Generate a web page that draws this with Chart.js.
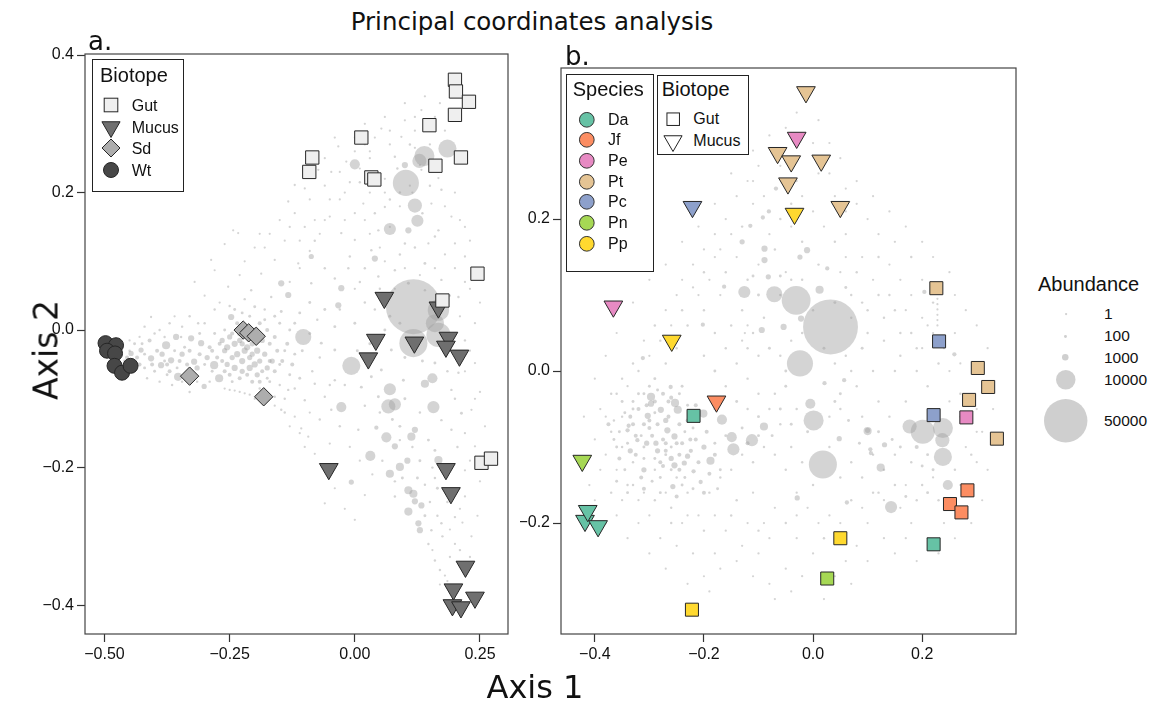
<!DOCTYPE html>
<html>
<head>
<meta charset="utf-8">
<title>Principal coordinates analysis</title>
<script src="https://cdn.jsdelivr.net/npm/chart.js@4.4.1/dist/chart.umd.min.js"></script>
<style>
  body { margin: 0; background: #fff; }
  #page { position: relative; width: 1151px; height: 704px; overflow: hidden; color: #111; }
  #page canvas { position: absolute; }
  .txt { position: absolute; white-space: nowrap; line-height: 1; }
  .box { position: absolute; border: 1.5px solid #222; background: #fff; box-sizing: border-box; }
  svg.mk { position: absolute; overflow: visible; }
</style>
</head>
<body>
<div id="page">
  <canvas id="chartA" width="520" height="640" style="left:0;top:40px"></canvas>
  <canvas id="chartB" width="510" height="640" style="left:520px;top:40px"></canvas>
</div>
<script>
// === Panel a: samples by biotope (Axis 1, Axis 2)
const gutA = [[0.200,0.364],[0.202,0.347],[0.228,0.332],[0.200,0.313],[0.149,0.298],[0.013,0.280],
  [-0.085,0.251],[-0.091,0.230],[0.033,0.222],[0.039,0.219],[0.161,0.239],[0.212,0.251],
  [0.245,0.082],[0.175,0.043],[0.253,-0.193],[0.272,-0.187]];
const mucusA = [[0.059,0.047],[0.167,0.033],[0.042,-0.014],[0.027,-0.041],[0.119,-0.018],[0.187,-0.011],
  [0.182,-0.024],[0.209,-0.037],[-0.052,-0.202],[0.182,-0.202],[0.192,-0.237],[0.221,-0.344],
  [0.197,-0.377],[0.195,-0.400],[0.212,-0.403],[0.240,-0.389]];
const sdA = [[-0.223,0.000],[-0.212,-0.004],[-0.197,-0.009],[-0.330,-0.067],[-0.182,-0.097]];
const wtA = [[-0.498,-0.019],[-0.477,-0.022],[-0.495,-0.030],[-0.479,-0.034],[-0.480,-0.052],[-0.465,-0.062],[-0.448,-0.052]];

// === Panel b: samples by species and biotope
const speciesNames = ['Da','Jf','Pe','Pt','Pc','Pn','Pp'];
const speciesColors = ['#66c2a5','#fc8d62','#e78ac3','#e5c494','#8da0cb','#a6d854','#ffd92f'];
const gutB = [[-0.219,-0.059,'Da'],[0.050,-0.220,'Pp'],[0.026,-0.273,'Pn'],[-0.222,-0.314,'Pp'],
  [0.226,0.109,'Pt'],[0.231,0.039,'Pc'],[0.302,0.004,'Pt'],[0.321,-0.021,'Pt'],[0.286,-0.038,'Pt'],
  [0.221,-0.058,'Pc'],[0.281,-0.061,'Pe'],[0.337,-0.089,'Pt'],[0.283,-0.157,'Jf'],[0.251,-0.175,'Jf'],
  [0.272,-0.186,'Jf'],[0.221,-0.228,'Da']];
const mucusB = [[-0.013,0.367,'Pt'],[-0.030,0.307,'Pe'],[-0.065,0.287,'Pt'],[-0.040,0.276,'Pt'],
  [0.015,0.277,'Pt'],[-0.046,0.247,'Pt'],[0.050,0.216,'Pt'],[-0.034,0.207,'Pp'],[-0.221,0.216,'Pc'],
  [-0.366,0.085,'Pe'],[-0.259,0.040,'Pp'],[-0.177,-0.040,'Jf'],[-0.423,-0.118,'Pn'],
  [-0.418,-0.197,'Da'],[-0.394,-0.204,'Da'],[-0.413,-0.184,'Da']];

// === OTU clouds [axis1, axis2, abundance]
const cloudA = [
  [0.117,0.034,80000],[0.102,0.214,18000],[0.139,0.253,10600],[0.185,0.264,8600],[0.129,0.246,5200],
  [0.120,0.181,5200],[0.125,0.159,3800],[0.070,0.147,3800],[0.000,0.241,2600],[0.167,0.029,12000],
  [0.160,0.010,8600],[0.167,-0.007,15300],[0.117,-0.019,20800],[-0.007,-0.052,8600],[0.070,-0.086,3800],
  [0.067,-0.111,5200],[0.080,-0.108,3800],[-0.027,-0.112,2600],[0.157,-0.112,3800],[0.063,-0.156,2600],
  [0.031,-0.183,2600],[0.155,-0.070,2600],[-0.103,-0.010,6800],
  [-0.377,-0.022,1640],[-0.353,-0.068,1640],[-0.271,-0.070,1640],[-0.281,-0.051,1640],[-0.357,-0.010,900],
  [-0.327,-0.012,900],[-0.307,-0.019,900],[-0.407,-0.041,900],[-0.387,-0.051,900],[-0.367,-0.044,900],
  [-0.321,-0.046,900],[-0.427,-0.029,600],[-0.447,-0.034,600],[-0.301,-0.082,600],[0.040,0.104,900],
  [0.107,0.145,900],[0.100,0.240,900],[-0.033,0.036,900],[-0.027,0.061,900],[-0.147,0.068,900],
  [-0.133,0.051,900],[-0.247,0.019,900],[-0.087,0.107,600],[0.140,-0.078,1640],[0.113,-0.155,1640],
  [0.090,-0.199,1640],[0.070,-0.209,1640],[0.107,-0.233,1640],[0.117,-0.238,1640],[0.107,-0.264,1640],
  [0.167,-0.189,1640],[0.080,-0.169,900],[0.105,-0.190,900],[0.120,-0.249,900],[0.133,-0.255,900],
  [0.127,-0.281,900],[0.130,-0.291,900],[0.120,-0.145,900],[0.043,-0.142,360],[-0.007,-0.221,600],
  [-0.250,-0.010,600],[-0.240,-0.020,900],[-0.230,-0.015,600],[-0.215,-0.025,900],[-0.205,-0.020,600],
  [-0.195,-0.030,900],[-0.185,-0.015,600],[-0.245,-0.040,600],[-0.235,-0.035,900],[-0.225,-0.045,900],
  [-0.210,-0.040,600],[-0.200,-0.050,900],[-0.190,-0.045,600],[-0.180,-0.035,600],[-0.255,-0.050,600],
  [-0.240,-0.055,900],[-0.225,-0.060,600],[-0.210,-0.055,900],[-0.195,-0.065,600],[-0.175,-0.055,600],
  [-0.230,-0.005,600],[-0.215,0.005,300],[-0.200,0.000,600],[-0.170,-0.020,300],[-0.165,-0.045,600],
  [-0.260,-0.030,600],[-0.265,-0.045,300],[-0.220,-0.030,900],[-0.205,-0.035,600],[-0.185,-0.060,300],
  [-0.250,-0.065,300],[-0.160,-0.060,300],[-0.155,-0.030,300],[-0.235,0.010,300],[-0.190,0.010,300],
  [-0.175,0.000,300],[-0.145,-0.045,300],[-0.135,-0.020,300],[-0.125,-0.050,300],
  [-0.460,-0.045,100],[-0.440,-0.020,100],[-0.430,-0.050,300],[-0.420,-0.035,100],[-0.410,-0.015,300],
  [-0.400,-0.060,100],[-0.395,-0.030,300],[-0.380,-0.045,100],[-0.370,-0.060,300],[-0.360,-0.030,100],
  [-0.350,-0.045,300],[-0.340,-0.025,100],[-0.335,-0.050,300],[-0.320,-0.065,100],[-0.310,-0.035,300],
  [-0.300,-0.050,100],[-0.290,-0.025,300],[-0.285,-0.060,100],[-0.275,-0.040,300],[-0.440,-0.060,30],
  [-0.450,-0.030,30],[-0.415,-0.070,30],[-0.390,-0.075,30],[-0.365,-0.080,30],[-0.345,-0.075,30],
  [-0.330,-0.090,30],[-0.390,0.000,30],[-0.370,0.010,30],[-0.345,0.005,30],[-0.420,0.005,30],
  [-0.300,0.010,30],[-0.280,-0.005,100],
  [-0.243,0.145,1],[-0.133,0.187,10],[-0.120,0.211,10],[-0.100,0.206,1],[-0.073,0.233,10],[-0.047,0.230,1],
  [-0.033,0.267,10],[-0.017,0.245,10],[0.053,0.293,10],[0.133,0.320,1],[0.093,0.281,10],[0.080,0.252,30],
  [0.040,0.170,30],[0.017,0.184,10],[-0.027,0.141,30],[0.000,0.131,10],[0.033,0.116,30],[-0.010,0.107,30],
  [-0.013,0.090,30],[-0.087,0.068,30],[-0.113,0.097,10],[-0.160,0.102,10],[-0.167,0.048,30],[-0.187,0.082,10],
  [-0.207,0.058,30],[-0.253,0.063,10],[-0.280,0.087,1],[-0.313,0.010,30],[-0.347,-0.010,30],[-0.407,0.019,10],
  [-0.147,0.027,100],[-0.120,0.010,100],[-0.200,0.034,100],[-0.233,0.141,1],[-0.287,0.102,1],[-0.260,0.125,1],
  [-0.060,0.160,10],[-0.080,0.130,30],[-0.050,0.190,10],[-0.020,0.200,10],[0.010,0.215,30],[0.030,0.250,10],
  [0.060,0.220,10],[0.070,0.190,30],[0.020,0.160,10],[-0.100,0.150,10],[-0.140,0.130,1],[-0.180,0.120,10],
  [-0.220,0.100,1],[-0.060,0.090,30],[-0.040,0.075,30],[-0.090,0.040,100],[-0.060,0.030,100],[-0.040,0.005,100],
  [0.000,0.010,100],[0.020,0.040,30],[0.050,0.060,30],[0.070,0.020,100],[0.030,-0.020,100],[0.005,-0.030,100],
  [-0.070,-0.040,30],[-0.050,-0.080,30],
  [0.133,0.233,10],[0.167,0.221,10],[0.173,0.204,30],[0.153,0.184,10],[0.193,0.165,10],[0.167,0.145,30],
  [0.200,0.126,10],[0.147,0.126,10],[0.100,0.126,30],[0.060,0.179,10],[0.047,0.145,30],[0.140,0.058,30],
  [0.160,0.136,30],[0.140,0.097,100],[0.173,0.073,30],[0.107,0.068,100],[0.080,0.087,30],[0.047,0.078,30],
  [0.220,0.107,10],[0.207,0.048,30],[0.230,0.060,10],[0.240,0.010,10],[0.220,0.150,1],[0.180,0.290,10],
  [0.160,0.310,10],[0.120,0.290,10],[0.110,0.270,30],[0.070,0.270,10],[0.090,0.200,30],[0.150,0.210,30],
  [0.147,-0.311,30],[0.160,-0.335,30],[0.170,-0.349,30],[0.180,-0.357,10],[0.160,-0.175,100],[0.147,-0.160,100],
  [0.173,-0.131,30],[0.213,-0.121,100],[0.240,-0.169,10],[0.233,-0.116,10],[0.240,-0.048,10],[0.220,-0.015,30],
  [0.160,-0.048,100],[0.007,-0.145,30],[-0.047,-0.116,30],[-0.060,-0.097,30],[-0.080,-0.078,30],[-0.100,-0.102,30],
  [-0.120,-0.126,10],[-0.147,-0.116,30],[-0.160,-0.097,30],[-0.133,-0.087,30],[-0.093,-0.155,10],[-0.107,-0.143,10],
  [0.000,-0.276,10],[-0.060,-0.252,10],[0.047,-0.097,100],[0.013,-0.083,100],[0.033,-0.068,100],[-0.040,-0.073,30],
  [-0.040,-0.029,100],[-0.067,-0.019,100],[0.053,-0.058,100],[0.073,-0.029,100],[0.097,-0.073,100],[0.193,-0.087,30],
  [0.207,-0.062,30],[0.193,-0.145,30],[0.220,-0.204,10],[0.220,-0.242,10],[0.200,-0.272,30],[0.173,-0.281,30],
  [0.200,-0.311,10],[0.233,-0.300,10],[0.153,-0.291,30],[0.140,-0.270,100],[0.080,-0.242,30],[0.080,-0.220,30],
  [0.095,-0.215,100],[0.125,-0.215,100],[0.140,-0.225,30],[0.150,-0.250,30],[0.090,-0.140,100],[0.100,-0.100,100],
  [0.130,-0.120,30],[0.050,-0.120,30],[0.020,-0.110,30],
  [-0.180,-0.090,30],[-0.160,-0.110,10],[-0.140,-0.120,30],[-0.130,-0.140,10],[-0.110,-0.150,10],[-0.100,-0.170,10],
  [-0.080,-0.180,1],[-0.060,-0.200,10],[-0.040,-0.230,1],[-0.020,-0.260,1],[-0.050,-0.165,10],[-0.070,-0.130,30],
  [-0.090,-0.120,10],[-0.150,-0.080,30],[-0.260,-0.085,10],[-0.250,-0.087,10],[-0.240,-0.088,10],[-0.230,-0.090,10],
  [-0.220,-0.092,10],[-0.210,-0.094,10],
  [-0.130,0.070,10],[-0.110,0.090,1],[-0.090,0.115,10],[-0.070,0.140,1],[-0.050,0.165,10],[-0.030,0.190,1],
  [-0.010,0.215,10],[0.010,0.235,1],[0.030,0.260,10],[-0.030,0.030,30],[0.000,0.060,10],[0.020,0.090,30],
  [0.050,0.120,10],[0.070,0.150,10],[0.090,0.180,1],[0.110,0.210,10],[0.130,0.240,1],[0.150,0.270,10],
  [-0.300,0.050,1],[-0.320,0.070,1],[-0.270,0.040,10],[-0.230,0.080,10],[-0.190,0.140,1],[-0.150,0.160,1],
  [-0.120,0.170,10],[-0.090,0.190,1],[-0.060,0.250,1],[-0.040,0.280,10],[0.000,0.280,1],[0.020,0.300,10],
  [0.060,0.310,1],[0.100,0.305,10],[0.120,0.265,10],[0.085,0.235,30],[0.115,0.200,10],[0.135,0.170,30],
  [0.180,0.180,10],[0.200,0.200,1],[0.210,0.160,10],[0.230,0.130,1],[0.240,0.090,10],[0.250,0.040,1],
  [0.230,-0.030,10],[0.250,-0.090,10],[0.260,-0.140,1],[0.250,-0.220,10],[0.245,-0.270,1],[0.230,-0.330,10],
  [0.210,-0.320,30],[0.190,-0.330,10],[0.175,-0.300,30],[0.185,-0.250,30],[0.165,-0.230,100],[0.155,-0.200,30],
  [0.130,-0.190,100],[0.115,-0.170,30],[0.090,-0.160,30],[0.075,-0.130,100],[0.055,-0.190,30],[0.035,-0.210,10],
  [0.020,-0.240,10],[0.010,-0.190,10],[-0.010,-0.170,10],[-0.030,-0.140,30],[-0.020,-0.080,30],[-0.085,-0.060,30],
  [-0.110,-0.070,100],[-0.130,-0.065,100],[-0.140,-0.100,30],[-0.170,-0.075,100],[-0.190,-0.085,30],[-0.200,-0.100,10],
  [-0.170,-0.100,30],[-0.120,-0.085,30],[-0.105,-0.030,100],[-0.090,-0.005,100],[-0.075,0.015,30],[-0.110,0.025,100],
  [-0.130,0.000,100],[-0.150,0.010,100],[-0.160,-0.010,300],[-0.280,0.030,30],[-0.260,0.000,100],[-0.310,-0.005,100],
  [-0.330,0.020,30],[-0.360,0.020,10],[-0.380,-0.010,30],[-0.400,-0.005,30],[-0.430,-0.010,10],[-0.450,-0.015,10],
  [-0.460,-0.060,10],[-0.420,-0.055,100],[-0.375,-0.065,100],[-0.355,-0.055,100],[-0.315,-0.075,30],[-0.290,-0.075,30],
  [-0.270,-0.020,300],[-0.250,0.035,30],[-0.220,0.045,30],[-0.180,0.030,30],[-0.160,0.020,100],[0.060,0.000,100],
  [0.090,0.010,100],[0.100,-0.040,100],[0.135,-0.045,100],[0.185,-0.060,30],[0.200,-0.100,30],[0.220,-0.150,10],
  [0.205,-0.170,30],[0.160,-0.215,30],[0.060,0.050,30],[0.040,0.030,30],[0.010,0.070,30],[0.090,0.110,30],
  [0.120,0.120,30],[0.180,0.110,10],[0.200,0.090,10],[0.220,0.070,10],[0.060,0.200,10],[0.030,0.200,10],[0.000,0.170,10],
  [-0.455,-0.040,300],[-0.435,-0.040,300],[-0.425,-0.020,100],[-0.405,-0.050,300],[-0.385,-0.035,600],[-0.375,-0.050,300],
  [-0.345,-0.035,600],[-0.330,-0.030,300],[-0.315,-0.055,600],[-0.295,-0.040,600],[-0.285,-0.030,300],[-0.265,-0.015,600],
  [-0.255,-0.025,900],[-0.245,-0.005,300],[-0.225,-0.020,600],[-0.215,-0.065,300],[-0.205,-0.075,300],[-0.230,-0.070,300],
  [-0.245,-0.075,100],[-0.260,-0.060,300],[-0.190,-0.075,300],[-0.175,-0.070,100],[-0.170,-0.045,300],[-0.150,-0.050,100],
  [-0.140,-0.030,100],[-0.120,-0.035,100],[-0.195,-0.005,300],[-0.180,0.015,100],[-0.210,0.020,100],[-0.225,0.025,100],
  [-0.240,0.030,100],
  [-0.200,0.120,1],[-0.170,0.140,1],[-0.130,0.150,10],[-0.110,0.130,10],[-0.080,0.160,1],[-0.060,0.210,10],
  [-0.030,0.230,1],[0.000,0.260,10],[0.040,0.280,1],[0.070,0.290,10],[0.100,0.330,1],[0.140,0.340,10],
  [0.170,0.330,1],[0.120,0.310,10],[0.020,0.270,1],[-0.020,0.160,10],[0.030,0.140,1],[0.060,0.100,10],
  [0.080,0.060,1],[0.100,0.090,10],[0.130,0.080,1],[0.160,0.090,10],[0.190,0.050,1],[0.210,0.020,10],
  [0.220,-0.060,1],[0.240,-0.100,10],[0.230,-0.190,1],[0.210,-0.260,10],[0.190,-0.290,1],[0.215,-0.280,10],
  [0.165,-0.270,30],[0.155,-0.320,10],[0.170,-0.370,1],[0.185,-0.365,10]
];
const cloudB = [
  [0.032,0.058,80000],[-0.031,0.093,22000],[-0.071,0.101,6800],[-0.126,0.104,3800],[0.012,0.107,1640],
  [-0.024,0.010,18000],[0.001,-0.065,10600],[0.018,-0.123,20800],[-0.005,-0.043,2600],[-0.112,-0.091,3800],
  [-0.146,-0.103,3800],[-0.149,-0.087,2600],[-0.167,-0.064,2600],[-0.090,-0.073,1640],[-0.188,-0.118,1640],
  [-0.248,-0.051,1640],[-0.253,-0.042,1640],[-0.201,-0.056,1640],[-0.297,-0.034,1640],[0.143,-0.179,3800],
  [0.124,-0.127,1640],[0.177,-0.073,5200],[0.201,-0.080,15300],[0.238,-0.075,10600],[0.237,-0.091,5200],
  [0.238,-0.113,8600],[0.247,-0.150,2600],[0.100,-0.079,1640],
  [-0.089,0.146,900],[-0.089,0.161,900],[-0.011,0.159,900],[-0.024,0.150,600],[-0.130,0.170,600],
  [-0.115,0.191,360],[-0.092,0.202,360],[-0.081,0.210,360],[-0.163,0.111,360],[-0.094,0.054,900],
  [-0.054,0.058,900],[-0.022,0.069,900],[-0.068,0.240,360],[-0.082,0.124,600],[0.026,0.135,360],
  [-0.202,0.061,360],[-0.261,-0.021,360],[-0.312,0.017,360],[-0.297,-0.043,900],[-0.303,-0.059,900],
  [-0.279,-0.051,900],[-0.267,-0.078,900],[-0.254,-0.086,900],[-0.288,-0.095,600],[-0.254,-0.124,900],
  [-0.257,-0.152,600],[-0.310,-0.130,600],[-0.322,-0.091,360],[-0.340,-0.078,360],[-0.338,-0.072,360],
  [-0.236,-0.121,600],[-0.219,-0.132,360],[-0.206,-0.146,360],[-0.230,-0.112,600],[-0.224,-0.105,360],
  [0.057,-0.012,360],[-0.029,-0.167,600],[0.062,-0.173,360],[0.131,-0.097,600],[0.100,-0.078,600],
  [0.048,-0.089,600],[0.105,-0.103,360],[0.021,-0.016,360],[0.259,0.022,360],[0.204,0.104,360],[0.106,-0.108,360],
  [-0.320,-0.050,300],[-0.310,-0.070,300],[-0.330,-0.040,100],[-0.285,-0.070,300],[-0.275,-0.030,300],
  [-0.265,-0.060,300],[-0.245,-0.070,300],[-0.240,-0.095,300],[-0.270,-0.105,300],[-0.290,-0.115,100],
  [-0.300,-0.020,100],[-0.350,-0.040,100],[-0.360,-0.100,100],[-0.325,-0.110,300],[-0.280,-0.140,100],
  [-0.240,-0.150,100],[-0.215,-0.090,300],[-0.195,-0.080,300],[-0.180,-0.095,100],[-0.170,-0.130,100],
  [0.228,0.095,1],[0.228,0.088,1],[0.228,0.081,1],[0.228,0.074,1],[0.228,0.067,1],[0.228,0.060,1],
  [-0.050,0.320,10],[-0.020,0.310,1],[0.000,0.300,10],[-0.070,0.290,10],[-0.100,0.270,10],[-0.120,0.250,1],
  [-0.140,0.230,10],[0.030,0.260,10],[0.060,0.240,1],[0.080,0.220,10],[0.100,0.200,10],[0.120,0.180,10],
  [-0.160,0.200,10],[-0.180,0.180,1],[-0.200,0.160,10],[-0.220,0.140,10],[-0.240,0.120,1],[-0.040,0.220,30],
  [-0.060,0.200,30],[-0.080,0.180,10],[0.020,0.190,10],[0.040,0.170,30],[-0.110,0.220,10],[-0.130,0.190,30],
  [-0.020,0.170,30],[0.010,0.140,30],[0.050,0.130,10],[0.090,0.150,10],[0.140,0.140,10],[0.160,0.120,10],
  [0.180,0.100,10],[0.200,0.070,10],[0.220,0.050,10],[0.240,0.030,10],[0.270,0.010,1],[0.150,0.080,30],
  [0.120,0.100,30],[0.090,0.090,30],[0.070,0.070,30],[0.100,0.050,30],[0.130,0.040,30],[0.160,0.020,30],
  [0.190,0.000,30],[0.210,-0.020,30],[0.250,-0.040,10],[0.270,-0.060,10],[0.300,-0.050,10],[0.280,-0.100,10],
  [0.260,-0.130,30],[0.290,-0.150,10],[0.230,-0.170,30],[0.200,-0.150,30],[0.180,-0.120,30],[0.150,-0.150,30],
  [0.120,-0.160,30],[0.100,-0.200,10],[0.080,-0.230,10],[0.060,-0.250,10],[0.040,-0.270,1],[0.000,-0.240,10],
  [-0.030,-0.220,10],[-0.050,-0.260,10],[-0.080,-0.280,1],[-0.100,-0.240,10],[-0.120,-0.200,10],[-0.140,-0.170,30],
  [-0.160,-0.210,10],[-0.180,-0.240,10],[-0.200,-0.270,1],[-0.220,-0.240,10],[-0.240,-0.200,10],[-0.260,-0.180,30],
  [-0.280,-0.220,10],[-0.300,-0.190,10],[-0.320,-0.170,10],[-0.340,-0.150,30],[-0.360,-0.130,10],[-0.380,-0.110,10],
  [-0.400,-0.090,10],[-0.390,-0.050,10],[-0.370,-0.030,30],[-0.350,-0.010,30],[-0.330,0.010,30],[-0.310,0.040,10],
  [-0.290,0.060,30],[-0.270,0.080,10],[-0.250,0.100,10],[-0.200,0.080,30],[-0.180,0.050,30],[-0.160,0.030,30],
  [-0.140,0.010,30],[-0.120,-0.010,30],[-0.100,-0.030,30],[-0.080,-0.050,30],[-0.060,-0.070,30],[-0.040,-0.100,30],
  [-0.020,-0.120,30],[0.000,-0.150,30],[0.030,-0.190,10],[-0.060,0.020,30],[-0.040,0.040,30],[-0.020,0.050,30],
  [0.060,0.020,30],[0.080,-0.020,30],[0.050,-0.050,30],[0.090,-0.060,30],[0.120,-0.040,30],[0.140,-0.060,30],
  [0.170,-0.040,30],[0.150,0.000,30],[0.110,0.000,30],[-0.090,0.070,30],[-0.110,0.050,30],[-0.130,0.080,30],
  [-0.150,0.060,30],[-0.170,0.100,10],[-0.190,0.120,10],[-0.210,0.100,10],[-0.230,0.060,30],[-0.250,0.030,30],
  [-0.270,0.010,30],[-0.290,-0.010,100],[-0.310,-0.030,100],[-0.330,-0.050,100],[-0.350,-0.060,30],[-0.370,-0.080,30],
  [-0.350,-0.100,30],[-0.330,-0.120,30],[-0.310,-0.100,100],[-0.290,-0.130,30],[-0.270,-0.110,100],[-0.250,-0.140,30],
  [-0.230,-0.160,30],[-0.210,-0.190,10],[-0.190,-0.160,30],[-0.170,-0.140,30],[-0.150,-0.130,30],[-0.130,-0.110,30],
  [-0.110,-0.120,30],[-0.090,-0.100,30],[-0.070,-0.110,30],[-0.050,-0.130,30],[-0.030,-0.160,10],[-0.010,-0.180,10],
  [0.010,-0.200,10],[-0.070,-0.180,10],[-0.090,-0.200,10],[-0.110,-0.160,10],[0.030,-0.100,30],[0.050,-0.140,30],
  [0.070,-0.120,30],[0.090,-0.140,30],[0.110,-0.110,30],[0.130,-0.130,30],[0.160,-0.180,10],[0.180,-0.200,10],
  [0.210,-0.220,10],[0.240,-0.200,10],[0.270,-0.190,10],[0.300,-0.120,10],[0.310,-0.080,10],[0.060,0.180,10],
  [0.000,0.210,10],[-0.030,0.250,10],[0.030,0.300,1],[-0.130,0.040,10],[-0.125,0.050,10],[-0.120,0.060,10],
  [-0.420,-0.060,1],[-0.410,-0.150,10],[-0.400,-0.170,1],[-0.380,-0.200,10],[-0.360,-0.190,1],[-0.340,-0.220,10],
  [-0.320,-0.200,1],[-0.300,-0.240,10],[-0.270,-0.260,1],[-0.250,-0.230,10],[-0.230,-0.280,1],[-0.190,-0.290,10],
  [-0.170,-0.260,1],[-0.140,-0.250,10],[-0.110,-0.270,1],[-0.070,-0.300,10],[-0.040,-0.290,1],[-0.020,-0.270,10],
  [0.020,-0.300,1],[0.070,-0.280,10],[0.100,-0.250,1],[0.130,-0.220,10],[0.150,-0.240,1],[0.170,-0.220,10],
  [0.190,-0.250,1],[0.230,-0.240,10],[0.260,-0.220,1],[0.290,-0.200,10],[0.310,-0.170,1],[0.320,-0.130,10],
  [0.330,-0.050,1],[0.320,0.030,10],[0.300,0.060,1],[0.280,0.080,10],[0.260,0.100,1],[0.250,0.130,10],
  [0.220,0.150,1],[0.200,0.170,10],[0.170,0.190,1],[0.140,0.210,10],[0.110,0.230,1],[0.080,0.250,10],
  [0.050,0.280,1],[0.010,0.330,10],[-0.030,0.340,1],[-0.080,0.310,10],[-0.110,0.290,1],[-0.150,0.260,10],
  [-0.180,0.220,1],[-0.210,0.190,10],[-0.240,0.170,1],[-0.270,0.140,10],[-0.300,0.120,1],[-0.330,0.090,10],
  [-0.360,0.050,1],[-0.380,0.020,10],[-0.400,-0.010,1],[-0.390,-0.130,10],[-0.370,-0.160,30],[-0.350,-0.170,10],
  [-0.330,-0.150,30],[-0.310,-0.160,10],[-0.290,-0.170,30],[-0.270,-0.160,10],[-0.260,-0.200,30],[-0.230,-0.190,10],
  [-0.200,-0.210,30],[-0.180,-0.190,10],[-0.150,-0.190,30],[-0.130,-0.230,10],[-0.100,-0.210,30],[-0.080,-0.220,10],
  [-0.050,-0.200,30],[-0.030,-0.190,10],[0.020,-0.220,30],[0.050,-0.200,10],[0.070,-0.170,30],[0.090,-0.180,10],
  [0.110,-0.160,30],[0.130,-0.170,10],[0.150,-0.110,30],[0.170,-0.150,10],[0.190,-0.170,30],[0.220,-0.140,10],
  [0.250,-0.170,30],[0.270,-0.150,10],[0.290,-0.110,30],[0.300,-0.080,10],[0.270,-0.030,30],[0.250,0.000,10],
  [0.230,0.010,30],[0.200,0.030,10],[0.180,0.050,30],[0.170,0.080,10],[0.140,0.100,30],[0.110,0.120,10],
  [0.080,0.130,30],[0.060,0.150,10],[0.120,0.150,30],[0.150,0.170,10],[0.180,0.150,30],[0.200,0.120,10],
  [0.220,0.090,30],[0.260,0.050,10],[-0.020,0.120,30],[-0.050,0.130,10],[-0.070,0.160,30],[-0.100,0.140,10],
  [-0.120,0.120,30],[-0.140,0.150,10],[-0.160,0.130,30],[-0.180,0.150,10],[-0.200,0.130,30],[-0.220,0.110,10],
  [-0.240,0.080,30],[-0.260,0.060,10],[-0.280,0.040,30],[-0.300,0.020,10],[-0.320,0.000,30],[-0.340,-0.020,10],
  [-0.360,-0.030,30],[-0.380,-0.060,10],[-0.200,0.020,30],[-0.180,0.000,100],[-0.160,-0.020,30],[-0.140,-0.040,100],
  [-0.120,-0.050,30],[-0.100,-0.060,100],[-0.070,-0.030,30],[-0.050,-0.020,100],[-0.030,-0.050,30],[-0.010,-0.080,100],
  [0.030,-0.060,30],[0.050,-0.030,100],[0.070,0.000,30],[0.090,0.030,100],[0.040,0.010,30],[0.020,0.030,100],
  [-0.100,0.020,30],[-0.120,0.030,30],[-0.060,0.100,30],[-0.040,0.120,30],[0.000,0.080,30],[0.070,0.100,30],
  [0.100,0.080,30],[0.130,0.070,30],[0.160,0.050,30],[0.190,0.030,30],[0.210,0.060,10],[-0.110,0.250,10],
  [-0.090,0.230,10],[-0.060,0.270,10],[-0.040,0.190,10],[-0.020,0.230,10],[0.010,0.260,10],[0.040,0.230,10],
  [0.060,0.210,10],[-0.150,0.180,10],[-0.170,0.160,10],
  [-0.345,-0.055,100],[-0.330,-0.070,300],[-0.315,-0.085,100],[-0.300,-0.075,300],[-0.290,-0.055,100],[-0.275,-0.090,300],
  [-0.260,-0.100,100],[-0.245,-0.110,300],[-0.235,-0.080,100],[-0.220,-0.075,100],[-0.310,-0.115,100],[-0.340,-0.095,100],
  [-0.355,-0.080,100],[-0.365,-0.065,30],[-0.305,-0.045,300],[-0.285,-0.025,100],[-0.265,-0.040,300],[-0.245,-0.030,100],
  [-0.230,-0.045,100],[-0.260,-0.130,100],[-0.275,-0.125,300],[-0.295,-0.145,100],
  [-0.180,-0.050,100],[-0.160,-0.085,100],[-0.130,-0.075,100],[-0.120,-0.095,300],[-0.100,-0.085,100],[-0.075,-0.085,100],
  [-0.060,-0.050,100],[-0.040,-0.070,100],[0.040,-0.040,100],[0.065,-0.065,100],[0.085,-0.095,100],[0.120,-0.080,100],
  [0.145,-0.090,100],[0.160,-0.100,100],[0.190,-0.100,300],[0.210,-0.110,100],[0.220,-0.130,100],[0.200,-0.125,100],
  [0.170,-0.165,100],[0.210,-0.160,100],[-0.100,0.100,100],[-0.110,0.125,100],[-0.060,0.125,100],[0.040,0.090,100],
  [0.060,0.110,100],[-0.080,0.030,100],[-0.050,0.000,100],
  [-0.375,-0.070,300],[-0.365,-0.090,100],[-0.355,-0.115,300],[-0.345,-0.130,100],[-0.335,-0.105,600],[-0.325,-0.085,300],
  [-0.315,-0.140,300],[-0.305,-0.095,600],[-0.295,-0.085,300],[-0.285,-0.105,600],[-0.280,-0.120,300],[-0.270,-0.095,300],
  [-0.260,-0.115,600],[-0.250,-0.095,300],[-0.245,-0.130,300],[-0.235,-0.140,100],[-0.225,-0.090,300],[-0.210,-0.120,300],
  [-0.200,-0.100,600],[-0.190,-0.135,300],[-0.180,-0.110,300],[-0.175,-0.155,100],[-0.200,-0.160,300],[-0.220,-0.155,100],
  [-0.250,-0.165,300],[-0.280,-0.160,100],[-0.310,-0.155,300],[-0.340,-0.160,100],[-0.360,-0.145,100],[-0.300,-0.065,300],
  [-0.270,-0.065,600],[-0.230,-0.065,300],[-0.215,-0.045,300],[-0.335,-0.060,300],[-0.290,-0.040,300],[-0.320,-0.030,100],
  [-0.260,-0.035,300],[-0.240,-0.020,100]
];

// === Abundance legend levels
const abundanceLevels = [1, 100, 1000, 10000, 50000];

const CLOUD_GREY = 'rgba(160,160,160,0.45)';
function dotRadius(a) { return Math.sqrt(0.0094 * a + 1.2); }
function speciesColor(name) { return speciesColors[speciesNames.indexOf(name)]; }

function cloudDataset(points) {
  return {
    label: 'OTU',
    data: points.map(p => ({ x: p[0], y: p[1], a: p[2] })),
    pointRadius: c => dotRadius(c.raw ? c.raw.a : 1),
    pointBackgroundColor: CLOUD_GREY,
    pointBorderWidth: 0,
    order: 10
  };
}

function sampleDataset(label, pts, style, radius, fill, rotation) {
  return {
    label,
    data: pts.map(p => ({ x: p[0], y: p[1] })),
    pointStyle: style,
    pointRadius: radius,
    pointRotation: rotation || 0,
    pointBackgroundColor: fill,
    pointBorderColor: '#262626',
    pointBorderWidth: 1,
    order: 1
  };
}

function axis(min, max, ticks, digits, size, isX) {
  return {
    type: 'linear', min, max,
    afterBuildTicks: s => { s.ticks = ticks.map(v => ({ value: v })); },
    afterFit: s => { if (isX) s.height = size; else s.width = size; },
    grid: { drawOnChartArea: false, drawTicks: true, tickLength: 8, tickColor: '#333', tickWidth: 1.2 },
    border: { display: false },
    ticks: {
      color: '#111', font: { family: 'Liberation Sans', size: 16 }, padding: 3,
      maxRotation: 0, autoSkip: false, callback: v => v.toFixed(digits).replace('-', '\u2212')
    }
  };
}

const panelBox = {
  id: 'panelBox',
  afterDraw(chart) {
    const { ctx, chartArea: a } = chart;
    ctx.save();
    ctx.strokeStyle = '#444';
    ctx.lineWidth = 1.2;
    ctx.strokeRect(a.left, a.top, a.right - a.left, a.bottom - a.top);
    ctx.restore();
  }
};

function baseOptions(padding, scales) {
  return {
    responsive: false, animation: false, devicePixelRatio: 1,
    layout: { padding, autoPadding: false },
    plugins: { legend: { display: false }, tooltip: { enabled: false } },
    scales
  };
}

// === Chart a
new Chart(document.getElementById('chartA'), {
  type: 'scatter',
  data: {
    datasets: [
      sampleDataset('Gut', gutA, 'rect', 9.4, '#efefef'),
      sampleDataset('Mucus', mucusA, 'triangle', 10.8, '#6f6f6f', 180),
      sampleDataset('Sd', sdA, 'rectRot', 9.2, '#adadad'),
      sampleDataset('Wt', wtA, 'circle', 7.5, '#474747'),
      cloudDataset(cloudA)
    ]
  },
  options: baseOptions({ top: 14, right: 12, left: 0, bottom: 0 }, {
    x: axis(-0.539, 0.306, [-0.5, -0.25, 0, 0.25], 2, 46, true),
    y: axis(-0.442, 0.4015, [-0.4, -0.2, 0, 0.2, 0.4], 1, 85, false)
  }),
  plugins: [panelBox]
});

// === Chart b
new Chart(document.getElementById('chartB'), {
  type: 'scatter',
  data: {
    datasets: [
      sampleDataset('Gut', gutB, 'rect', 9.2, gutB.map(p => speciesColor(p[2]))),
      sampleDataset('Mucus', mucusB, 'triangle', 10.8, mucusB.map(p => speciesColor(p[2])), 180),
      cloudDataset(cloudB)
    ]
  },
  options: baseOptions({ top: 28, right: 14, left: 0, bottom: 0 }, {
    x: axis(-0.462, 0.372, [-0.4, -0.2, 0, 0.2], 1, 46, true),
    y: axis(-0.346, 0.3987, [-0.2, 0, 0.2], 1, 41, false)
  }),
  plugins: [panelBox]
});

// === Texts and legends (HTML)
const page = document.getElementById('page');
function addText(text, x, baseline, size, family, align) {
  const d = document.createElement('div');
  d.className = 'txt';
  d.textContent = text;
  d.style.fontFamily = family;
  d.style.fontSize = size + 'px';
  d.style.left = x + 'px';
  d.style.top = (baseline - 0.846 * size) + 'px';
  if (align === 'center') d.style.transform = 'translateX(-50%)';
  page.appendChild(d);
  return d;
}
function addBox(l, t, w, h) {
  const b = document.createElement('div');
  b.className = 'box';
  Object.assign(b.style, { left: l + 'px', top: t + 'px', width: w + 'px', height: h + 'px' });
  page.appendChild(b);
}
function addMarker(shape, cx, cy, size, fill, stroke) {
  const ns = 'http://www.w3.org/2000/svg';
  const s = document.createElementNS(ns, 'svg');
  s.setAttribute('class', 'mk');
  s.setAttribute('width', size * 2);
  s.setAttribute('height', size * 2);
  s.style.left = (cx - size) + 'px';
  s.style.top = (cy - size) + 'px';
  let el;
  const c = size;
  if (shape === 'square') {
    el = document.createElementNS(ns, 'rect');
    const h = size * 0.68;
    el.setAttribute('x', c - h); el.setAttribute('y', c - h);
    el.setAttribute('width', 2 * h); el.setAttribute('height', 2 * h);
  } else if (shape === 'circle') {
    el = document.createElementNS(ns, 'circle');
    el.setAttribute('cx', c); el.setAttribute('cy', c); el.setAttribute('r', size * 0.75);
  } else if (shape === 'diamond') {
    el = document.createElementNS(ns, 'polygon');
    const r = size * 0.9;
    el.setAttribute('points', `${c},${c - r} ${c + r},${c} ${c},${c + r} ${c - r},${c}`);
  } else if (shape === 'tri') {
    el = document.createElementNS(ns, 'polygon');
    const r = size * 1.05;
    el.setAttribute('points', `${c - r * 0.866},${c - r * 0.5} ${c + r * 0.866},${c - r * 0.5} ${c},${c + r}`);
  } else {
    el = document.createElementNS(ns, 'circle');
    el.setAttribute('cx', c); el.setAttribute('cy', c); el.setAttribute('r', size);
  }
  el.setAttribute('fill', fill);
  el.setAttribute('stroke', stroke || 'none');
  el.setAttribute('stroke-width', stroke ? 1 : 0);
  s.appendChild(el);
  page.appendChild(s);
}

const SANS = '"Liberation Sans", Arial, sans-serif';
const VERD = '"DejaVu Sans", Verdana, sans-serif';

addText('Principal coordinates analysis', 532, 31, 24.5, VERD, 'center');
addText('a.', 88, 50, 26, VERD);
addText('b.', 565, 65, 26, VERD);
addText('Axis 1', 535, 698, 32, VERD, 'center');
const ax2 = addText('Axis 2', 0, 0, 33, VERD);
Object.assign(ax2.style, { left: '46px', top: '350px', transform: 'translate(-50%,-50%) rotate(-90deg)' });

// legend a: biotope
const biotopeA = ['Gut', 'Mucus', 'Sd', 'Wt'];
const biotopeAShapes = ['square', 'tri', 'diamond', 'circle'];
const biotopeAFills = ['#efefef', '#6f6f6f', '#adadad', '#474747'];
addBox(92, 59, 92, 133);
addText('Biotope', 100, 81.5, 20, SANS);
biotopeA.forEach((name, i) => {
  const cy = 105 + i * 21.7;
  addMarker(biotopeAShapes[i], 110.7, cy, 10, biotopeAFills[i], '#262626');
  addText(name, 131.7, cy + 6.5, 16, SANS);
});

// legend b: species
addBox(566, 74, 87.5, 197.5);
addText('Species', 572.7, 96, 20, SANS);
speciesNames.forEach((name, i) => {
  const cy = 119.3 + i * 20.67;
  addMarker('circle', 586.7, cy, 9.8, speciesColors[i], '#333');
  addText(name, 608, cy + 5.8, 16, SANS);
});

// legend b: biotope
addBox(656.7, 75, 92.3, 80);
addText('Biotope', 661.7, 96, 20, SANS);
addMarker('square', 672.7, 119.3, 9.2, '#fff', '#222');
addText('Gut', 693.3, 125, 16, SANS);
addMarker('tri', 672.7, 141, 10, '#fff', '#222');
addText('Mucus', 693.3, 146.7, 16, SANS);

// abundance legend
const abundanceY = [314, 336, 357.7, 380, 421];
addText('Abundance', 1038, 290.7, 20, SANS);
abundanceLevels.forEach((a, i) => {
  addMarker('dot', 1065.7, abundanceY[i], dotRadius(a), 'rgba(160,160,160,0.5)');
  addText(String(a), 1104, abundanceY[i] + 5.5, 15.5, SANS);
});
</script>
</body>
</html>
